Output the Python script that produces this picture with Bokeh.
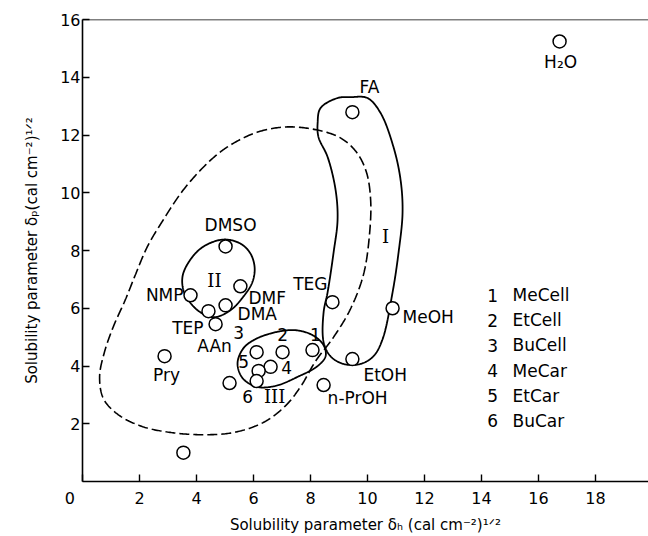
import numpy as np
from bokeh.plotting import figure
from bokeh.models import ColumnDataSource, FixedTicker, Span
from bokeh.core.properties import value
from bokeh.embed import file_html
from bokeh.resources import INLINE

# ---- data ----
# solvents: delta_h, delta_p
names = ["H2O", "FA", "DMSO", "NMP", "DMF", "DMA", "u1", "TEP", "Pry", "AAn",
         "TEG", "MeOH", "EtOH", "n-PrOH", "1", "2", "3", "4", "5", "6", "u2"]
dh = [16.74, 9.47, 5.02, 3.79, 5.54, 5.02, 4.42, 4.67, 2.88, 5.16,
      8.77, 10.88, 9.47, 8.46, 8.07, 7.02, 6.11, 6.60, 6.18, 6.11, 3.54]
dp = [15.24, 12.79, 8.14, 6.45, 6.76, 6.10, 5.90, 5.45, 4.34, 3.41,
      6.21, 6.00, 4.24, 3.34, 4.55, 4.48, 4.48, 3.97, 3.83, 3.48, 1.00]
labels = ["H\u2082O", "FA", "DMSO", "NMP", "DMF", "DMA", "", "TEP", "Pry", "AAn",
          "TEG", "MeOH", "EtOH", "n-PrOH", "1", "2", "3", "4", "5", "6", ""]

legend_num = ["1", "2", "3", "4", "5", "6"]
legend_names = ["MeCell", "EtCell", "BuCell", "MeCar", "EtCar", "BuCar"]

x_ticks = [0, 2, 4, 6, 8, 10, 12, 14, 16, 18]
y_ticks = [2, 4, 6, 8, 10, 12, 14, 16]

# region boundaries (delta_h, delta_p)
region1_x = [8.25, 8.35, 8.95, 9.40, 10.00, 10.46, 10.91, 11.16, 11.23, 11.09, 10.88, 10.53,
             10.21, 9.75, 9.16, 8.70, 8.46, 8.46, 8.60, 8.81, 8.95, 8.88, 8.60, 8.28]
region1_y = [12.41, 12.93, 13.28, 13.31, 13.28, 12.76, 11.59, 10.45, 9.31, 7.93, 6.55, 4.93,
             4.34, 4.07, 4.07, 4.34, 4.83, 5.86, 6.55, 7.93, 9.07, 10.10, 11.24, 11.93]
region2_x = [4.95, 5.54, 5.89, 6.04, 5.96, 5.65, 5.19, 4.60, 4.04, 3.58, 3.51, 3.79, 4.25]
region2_y = [8.38, 8.24, 7.90, 7.41, 6.90, 6.41, 5.93, 5.69, 5.93, 6.52, 7.10, 7.69, 8.14]
region3_x = [6.07, 6.77, 7.47, 8.07, 8.46, 8.53, 8.25, 7.54, 6.77, 6.11, 5.61, 5.44, 5.65]
region3_y = [4.93, 5.17, 5.24, 5.07, 4.72, 4.34, 4.00, 3.62, 3.31, 3.28, 3.59, 4.10, 4.62]
dashed_x = [6.14, 7.19, 8.25, 9.05, 9.61, 9.96, 10.11, 10.07, 9.86, 9.40, 8.81, 8.18, 7.65,
            7.12, 6.32, 5.26, 4.25, 3.16, 2.11, 1.26, 0.74, 0.60, 0.77, 1.09, 1.51, 1.86,
            2.28, 2.84, 3.54, 4.39, 5.09]
dashed_y = [12.10, 12.28, 12.17, 11.90, 11.41, 10.72, 9.76, 8.55, 7.17, 5.97, 5.00, 4.17, 3.28,
            2.62, 2.03, 1.69, 1.62, 1.69, 1.90, 2.31, 2.86, 3.62, 4.48, 5.38, 6.31, 7.17,
            8.14, 9.07, 10.10, 11.03, 11.59]
region_names = ["I", "II", "III"]
region_lx = [10.63, 4.63, 6.74]
region_ly = [8.48, 6.97, 2.93]

# ---- label placement (screen px offsets, styles) ----
lab_dx = [1, 17, 5, -7, 8, 12, 0, -12, 2, -15, -5, 10, 11, 4, 3, 0, -18, 16, -15, -9, 0]
lab_dy = [21, -25, -21, 0, 12, 9, 0, 4, 19, -37, -18, 9, 16, 13, -16, -18, -20, 1, -9, 15, 0]
lab_align = ["center", "center", "center", "right", "left", "left", "left", "right", "center",
             "center", "right", "left", "left", "left", "center", "center", "center", "center",
             "center", "center", "left"]


def closed_spline(xs, ys, n=24, alpha=0.5):
    pts = [np.array(p, dtype=float) for p in zip(xs, ys)]
    N = len(pts)
    ox, oy = [], []
    for i in range(N):
        P0, P1, P2, P3 = pts[i - 1], pts[i], pts[(i + 1) % N], pts[(i + 2) % N]
        t0 = 0.0
        t1 = t0 + np.linalg.norm(P1 - P0) ** alpha
        t2 = t1 + np.linalg.norm(P2 - P1) ** alpha
        t3 = t2 + np.linalg.norm(P3 - P2) ** alpha
        for t in np.linspace(t1, t2, n, endpoint=False):
            A1 = (t1 - t) / (t1 - t0) * P0 + (t - t0) / (t1 - t0) * P1
            A2 = (t2 - t) / (t2 - t1) * P1 + (t - t1) / (t2 - t1) * P2
            A3 = (t3 - t) / (t3 - t2) * P2 + (t - t2) / (t3 - t2) * P3
            B1 = (t2 - t) / (t2 - t0) * A1 + (t - t0) / (t2 - t0) * A2
            B2 = (t3 - t) / (t3 - t1) * A2 + (t - t1) / (t3 - t1) * A3
            C = (t2 - t) / (t2 - t1) * B1 + (t - t1) / (t2 - t1) * B2
            ox.append(C[0]); oy.append(C[1])
    ox.append(ox[0]); oy.append(oy[0])
    return ox, oy


FONT = value("DejaVu Sans")
NB = "\u00a0"

p = figure(width=648, height=536, output_backend="svg", toolbar_location=None,
           x_range=(0, 19.86), y_range=(0, 16),
           min_border_left=82, min_border_right=0, min_border_top=19, min_border_bottom=53)
p.outline_line_color = None
p.xgrid.grid_line_color = None
p.ygrid.grid_line_color = None
p.background_fill_color = "white"
p.border_fill_color = "white"

for ax in (p.xaxis[0], p.yaxis[0]):
    ax.axis_line_width = 1.6
    ax.axis_line_color = "black"
    ax.major_tick_in = 7
    ax.major_tick_out = 0
    ax.major_tick_line_width = 1.4
    ax.major_tick_line_color = "black"
    ax.minor_tick_line_color = None
    ax.major_label_text_font = "DejaVu Sans"
    ax.major_label_text_font_size = "16px"
    ax.major_label_text_color = "black"
    ax.axis_label_text_font = "DejaVu Sans"
    ax.axis_label_text_font_size = "15px"
    ax.axis_label_text_font_style = "normal"
    ax.axis_label_text_color = "black"

p.xaxis.ticker = FixedTicker(ticks=x_ticks)
p.xaxis.major_label_overrides = {0: "0" + NB * 5}
p.yaxis.ticker = FixedTicker(ticks=y_ticks)
p.xaxis.major_label_standoff = 7
p.yaxis.major_label_standoff = 2
p.xaxis.axis_label_standoff = 5
p.yaxis.axis_label_standoff = 16
p.xaxis.axis_label = "Solubility parameter \u03b4\u2095 (cal cm\u207b\u00b2)\u00b9\u141f\u00b2"
p.yaxis.axis_label = "Solubility parameter \u03b4\u209a(cal cm\u207b\u00b2)\u00b9\u141f\u00b2"

p.add_layout(Span(location=16, dimension="width", line_color="black", line_width=1.6))

# regions
for rx, ry in ((region1_x, region1_y), (region2_x, region2_y), (region3_x, region3_y)):
    sx, sy = closed_spline(rx, ry)
    p.line(sx, sy, line_color="black", line_width=1.8)
sx, sy = closed_spline(dashed_x, dashed_y)
p.line(sx, sy, line_color="black", line_width=1.6, line_dash="10 4")

# points
src = ColumnDataSource(dict(x=dh, y=dp, label=labels, dx=lab_dx, dy=lab_dy, align=lab_align))
p.scatter("x", "y", source=src, size=13, marker="circle", fill_color="white",
          line_color="black", line_width=1.5)
p.text("x", "y", text="label", source=src, x_offset="dx", y_offset="dy", text_align="align",
       text_baseline="middle", text_font=FONT, text_font_size="17px", text_color="black")

# region numerals
p.text(region_lx, region_ly, text=region_names, text_align="center", text_baseline="middle",
       text_font=value("DejaVu Serif"), text_font_size="18px", text_color="black")

# legend list
leg_y = [6.45 - 0.87 * i for i in range(len(legend_num))]
p.text([14.39] * len(legend_num), leg_y, text=legend_num, text_align="center",
       text_baseline="middle", text_font=FONT, text_font_size="17px", text_color="black")
p.text([15.09] * len(legend_names), leg_y, text=legend_names, text_align="left",
       text_baseline="middle", text_font=FONT, text_font_size="17px", text_color="black")

open("out.html", "w").write(file_html(p, INLINE))
